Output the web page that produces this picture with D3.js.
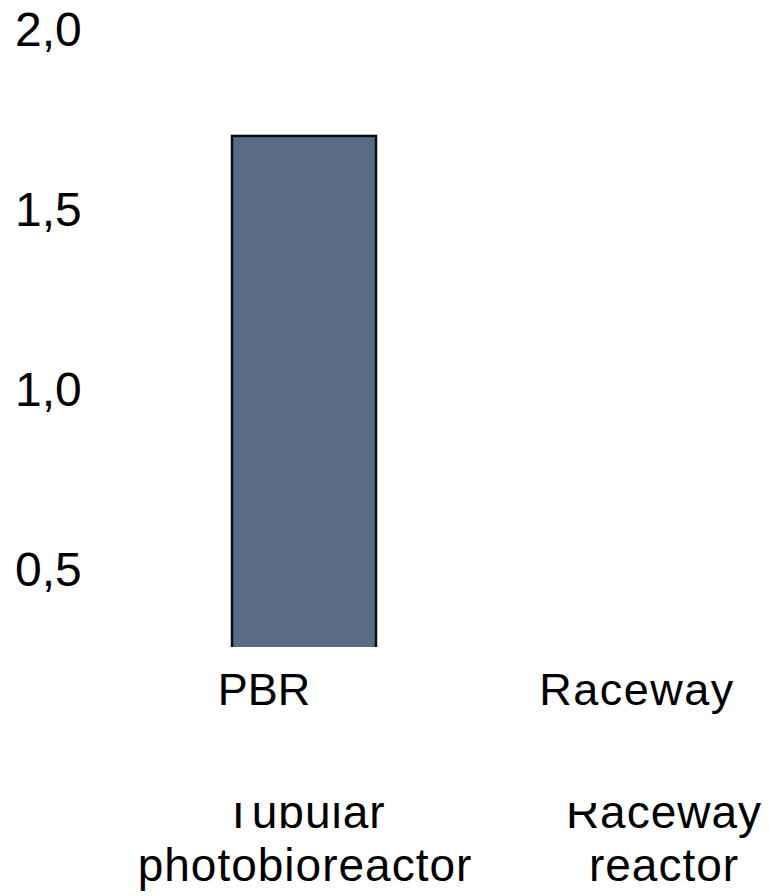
<!DOCTYPE html>
<html>
<head>
<meta charset="utf-8">
<script src="https://cdn.jsdelivr.net/npm/d3@7"></script>
<style>
  html, body { margin: 0; padding: 0; background: #ffffff; }
  svg { display: block; font-family: "Liberation Sans", Arial, sans-serif; }
</style>
</head>
<body>
<svg id="chart" width="769" height="896"></svg>
<script>
// Categories and values
const categories = ["PBR", "Raceway"];
const shortLabels = ["PBR", "Raceway"];
const longLabels = [["Tubular", "photobioreactor"], ["Raceway", "reactor"]];
const values = [1.7, null];
const yTicks = [0.5, 1.0, 1.5, 2.0];
const yTickLabels = ["0,5", "1,0", "1,5", "2,0"];

const svg = d3.select("#chart");

// Scales
const y = d3.scaleLinear().domain([0.28, 2.0]).range([647, 28]);
const x = d3.scalePoint().domain(categories).range([304, 663]);
const xShort = d3.scalePoint().domain(categories).range([264, 637]);
const barWidth = 144;

// Plot clipping region (bars are cut at the axis minimum)
const defs = svg.append("defs");
defs.append("clipPath").attr("id", "plotClip")
  .append("rect").attr("x", 0).attr("y", 0).attr("width", 769).attr("height", y(y.domain()[0]));
defs.append("clipPath").attr("id", "lowerClip")
  .append("rect").attr("x", 0).attr("y", 803).attr("width", 769).attr("height", 93);

// Y axis labels (no axis line, no ticks)
const yAxis = d3.axisLeft(y).tickValues(yTicks)
  .tickFormat((d, i) => yTickLabels[i]).tickSize(0).tickPadding(0);
const gy = svg.append("g").attr("transform", "translate(15,0)").call(yAxis);
gy.select(".domain").remove();
gy.selectAll("text")
  .attr("text-anchor", "start")
  .attr("x", 0)
  .attr("dy", "0.36em")
  .attr("font-size", 48)
  .attr("font-family", "'Liberation Sans', Arial, sans-serif")
  .attr("fill", "#000");

// Bars
svg.append("g").attr("clip-path", "url(#plotClip)")
  .selectAll("rect")
  .data(categories.map((c, i) => ({ c, v: values[i] })).filter(d => d.v != null))
  .join("rect")
  .attr("x", d => x(d.c) - barWidth / 2)
  .attr("y", d => y(d.v))
  .attr("width", barWidth)
  .attr("height", d => y(y.domain()[0]) - y(d.v) + 4)
  .attr("fill", "#596b86")
  .attr("stroke", "#0d0d0d")
  .attr("stroke-width", 2.5);

// Short category labels
svg.append("g").selectAll("text")
  .data(categories)
  .join("text")
  .attr("x", d => xShort(d))
  .attr("y", 705)
  .attr("text-anchor", "middle")
  .attr("font-size", 45)
  .attr("letter-spacing", (d, i) => i === 1 ? 1.5 : 0)
  .attr("fill", "#000")
  .text((d, i) => shortLabels[i]);

// Long category labels, two lines each, clipped at the top
const lower = svg.append("g").attr("clip-path", "url(#lowerClip)");
categories.forEach((c, i) => {
  longLabels[i].forEach((line, j) => {
    lower.append("text")
      .attr("x", x(c) + 1)
      .attr("y", 828 + j * 53)
      .attr("text-anchor", "middle")
      .attr("font-size", 46)
      .attr("letter-spacing", 1)
      .attr("fill", "#000")
      .text(line);
  });
});
</script>
</body>
</html>
